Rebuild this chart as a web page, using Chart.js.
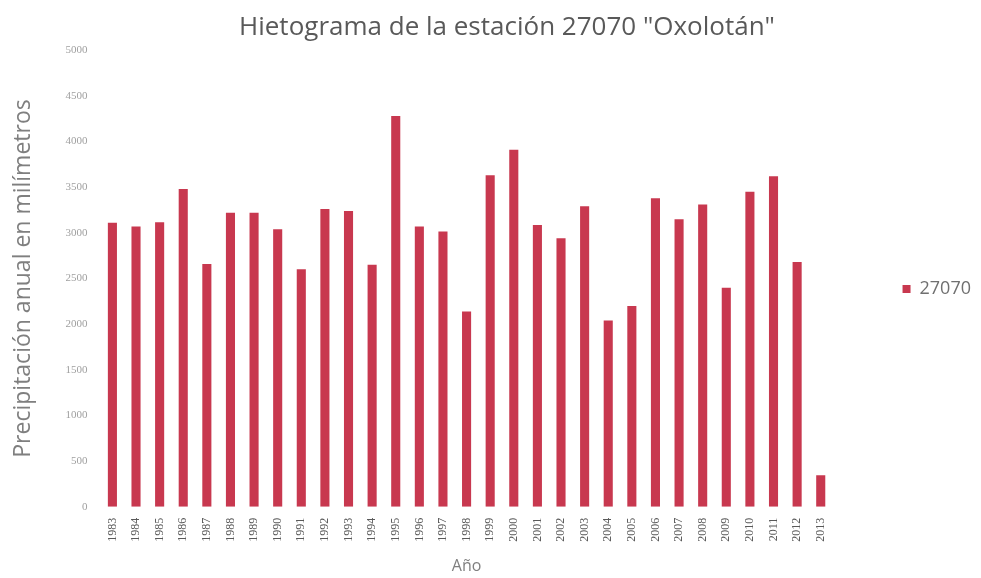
<!DOCTYPE html>
<html>
<head>
	<title>Hietograma 27070</title>
	<script src="https://cdn.jsdelivr.net/npm/chart.js@4.4.1/dist/chart.umd.min.js"></script>
	<meta charset="utf-8"/>
	<style>
		body { margin: 0; background: #fff; }
		#chart-container { width: 981px; height: 578px; }
	</style>
</head>
<body>
    <div id="chart-container">
        <canvas id="myChart" width="981" height="578"></canvas>
    </div>

    <script>
		var years = ['1983','1984','1985','1986','1987','1988','1989','1990','1991','1992',
			'1993','1994','1995','1996','1997','1998','1999','2000','2001','2002',
			'2003','2004','2005','2006','2007','2008','2009','2010','2011','2012','2013'];
		var precip = [3110, 3070, 3115, 3480, 2660, 3220, 3220, 3040, 2600, 3260,
			3240, 2650, 4280, 3070, 3015, 2140, 3630, 3910, 3085, 2940,
			3290, 2040, 2200, 3380, 3150, 3310, 2400, 3450, 3620, 2680, 345];
		var seriesName = '27070';
		var yTicks = [0, 500, 1000, 1500, 2000, 2500, 3000, 3500, 4000, 4500, 5000];

		var grey = '#7f7f7f';
		var font = "'Open Sans', sans-serif";

		var chartdata = {
			labels: years,
			datasets: [
				{
					label: seriesName,
					backgroundColor: '#c8384f',
					borderWidth: 0,
					barPercentage: 0.55,
					categoryPercentage: 0.7,
					data: precip
				}
			]
		};

		new Chart(document.getElementById('myChart'), {
			type: 'bar',
			data: chartdata,
			options: {
				responsive: false,
				animation: false,
				layout: { padding: { left: 6, right: 0, top: 2, bottom: 2 } },
				plugins: {
					title: {
						display: true,
						// leading spaces nudge the centred title a bit to the right
						text: '    Hietograma de la estación 27070 "Oxolotán"',
						color: '#595959',
						font: { family: font, size: 26, weight: 'normal' },
						padding: { top: 10, bottom: 7 }
					},
					legend: {
						position: 'right',
						labels: {
							color: '#707070',
							font: { family: font, size: 18 },
							boxWidth: 8,
							boxHeight: 8,
							padding: 70
						}
					},
					tooltip: { enabled: false }
				},
				scales: {
					x: {
						grid: { display: false },
						border: { display: false },
						ticks: {
							color: '#595959',
							font: { family: 'serif', size: 12 },
							minRotation: 90,
							maxRotation: 90,
							autoSkip: false
						},
						title: {
							display: true,
							text: 'Año',
							color: grey,
							font: { family: font, size: 16 },
							padding: { top: 12, bottom: 0 }
						}
					},
					y: {
						min: 0,
						max: 5000,
						afterBuildTicks: function (axis) {
							axis.ticks = yTicks.map(function (v) { return { value: v }; });
						},
						grid: { display: false },
						border: { display: false },
						ticks: {
							color: '#a0a0a0',
							font: { family: 'serif', size: 11 },
							padding: 5,
							callback: function (v) { return String(v); }
						},
						title: {
							display: true,
							text: 'Precipitación anual en milímetros',
							color: grey,
							font: { family: font, size: 23 },
							padding: { bottom: 23 }
						}
					}
				}
			}
		});
    </script>

</body>
</html>
